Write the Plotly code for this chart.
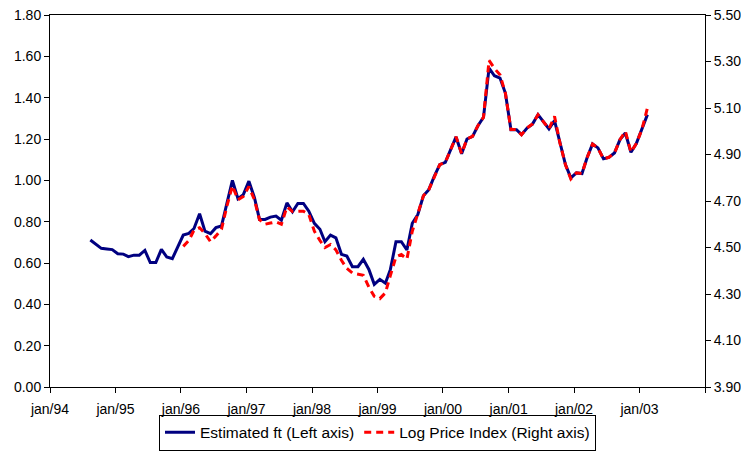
import plotly.graph_objects as go
import pandas as pd

# Estimated ft, monthly from aug/94 (left axis)
ft_values = [
    0.711, 0.690, 0.671, 0.668, 0.665,
    0.645, 0.643, 0.631, 0.638, 0.638, 0.661, 0.602, 0.602, 0.666, 0.629, 0.621, 0.679,
    0.735, 0.743, 0.767, 0.838, 0.754, 0.742, 0.771, 0.779, 0.891, 1.000, 0.911, 0.931,
    0.996, 0.916, 0.811, 0.811, 0.822, 0.827, 0.807, 0.891, 0.848, 0.888, 0.888, 0.851,
    0.792, 0.763, 0.703, 0.735, 0.722, 0.642, 0.634, 0.582, 0.582, 0.618, 0.569, 0.497,
    0.521, 0.502, 0.569, 0.703, 0.703, 0.663, 0.792, 0.835, 0.925, 0.955, 1.020, 1.076,
    1.087, 1.150, 1.210, 1.129, 1.200, 1.213, 1.264, 1.305, 1.543, 1.506, 1.495, 1.422,
    1.245, 1.245, 1.221, 1.253, 1.272, 1.318, 1.285, 1.249, 1.289, 1.181, 1.076, 1.012,
    1.036, 1.033, 1.108, 1.176, 1.157, 1.104, 1.111, 1.132, 1.197, 1.229, 1.136, 1.178,
    1.245, 1.318,
]

# Log price index, monthly from jan/96 (right axis)
log_price = [
    4.505, 4.530, 4.575, 4.585, 4.560, 4.525, 4.550, 4.578, 4.680, 4.765, 4.705, 4.720,
    4.762, 4.705, 4.620, 4.600, 4.605, 4.610, 4.600, 4.675, 4.655, 4.655, 4.656, 4.642,
    4.570, 4.530, 4.500, 4.513, 4.490, 4.445, 4.410, 4.390, 4.385, 4.380, 4.330, 4.290,
    4.280, 4.305, 4.380, 4.460, 4.470, 4.450, 4.570, 4.650, 4.722, 4.749, 4.807, 4.856,
    4.866, 4.922, 4.976, 4.904, 4.967, 4.978, 5.024, 5.060, 5.305, 5.270, 5.243, 5.164,
    5.007, 5.007, 4.985, 5.014, 5.031, 5.071, 5.042, 5.010, 5.064, 4.950, 4.856, 4.795,
    4.821, 4.818, 4.885, 4.945, 4.928, 4.881, 4.888, 4.906, 4.964, 5.000, 4.910, 4.947,
    5.007, 5.100,
]

year_ticks = pd.date_range("1994-01-01", "2004-01-01", freq="YS")
year_labels = ["jan/94", "jan/95", "jan/96", "jan/97", "jan/98", "jan/99",
               "jan/00", "jan/01", "jan/02", "jan/03", ""]

left_ticks = [0.0, 0.2, 0.4, 0.6, 0.8, 1.0, 1.2, 1.4, 1.6, 1.8]
right_ticks = [3.9, 4.1, 4.3, 4.5, 4.7, 4.9, 5.1, 5.3, 5.5]

# points sit mid-month in the original
ft_dates = pd.date_range("1994-08-01", periods=len(ft_values), freq="MS") + pd.Timedelta(days=13)
price_dates = pd.date_range("1996-01-01", periods=len(log_price), freq="MS") + pd.Timedelta(days=13)

fig = go.Figure()

fig.add_trace(go.Scatter(
    x=ft_dates, y=ft_values,
    name="Estimated ft (Left axis)",
    mode="lines",
    line=dict(color="#000080", width=3),
))

fig.add_trace(go.Scatter(
    x=price_dates, y=log_price,
    name="Log Price Index (Right axis)",
    mode="lines",
    yaxis="y2",
    line=dict(color="#FF0000", width=3, dash="7px,5px"),
))

axis_font = dict(family="Liberation Sans, Arial, sans-serif", size=14, color="black")

# page body has an 8px margin, so the figure is a bit smaller than the window
fig.update_layout(
    width=741, height=449,
    margin=dict(l=42, r=44, t=7, b=69),
    plot_bgcolor="white",
    paper_bgcolor="white",
    font=axis_font,
    showlegend=True,
    legend=dict(
        orientation="h",
        x=0.5, xanchor="center",
        y=-0.168, yanchor="bottom",
        bordercolor="black", borderwidth=1,
        bgcolor="rgba(255,255,255,0)",
        font=dict(family="Liberation Sans, Arial, sans-serif", size=15.5, color="black"),
        itemwidth=30,
    ),
    xaxis=dict(
        range=[year_ticks[0], year_ticks[-1]],
        tickvals=year_ticks, ticktext=year_labels,
        showgrid=False, zeroline=False, automargin=False,
        showline=True, linecolor="black", linewidth=1, mirror=True,
        ticks="outside", ticklen=5, tickcolor="black",
        ticklabelstandoff=4,
        tickfont=axis_font,
    ),
    yaxis=dict(
        range=[0, 1.8],
        tickvals=left_ticks, ticktext=[f"{v:.2f}" for v in left_ticks],
        showgrid=False, zeroline=False, automargin=False,
        showline=True, linecolor="black", linewidth=1,
        ticks="outside", ticklen=5, tickcolor="black",
        ticklabeloverflow="allow",
        tickfont=axis_font,
    ),
    yaxis2=dict(
        range=[3.9, 5.5],
        tickvals=right_ticks, ticktext=[f"{v:.2f}" for v in right_ticks],
        overlaying="y", side="right",
        showgrid=False, zeroline=False, automargin=False,
        showline=True, linecolor="black", linewidth=1,
        ticks="outside", ticklen=5, tickcolor="black",
        ticklabeloverflow="allow",
        tickfont=axis_font,
    ),
)

fig.write_html("out.html")
